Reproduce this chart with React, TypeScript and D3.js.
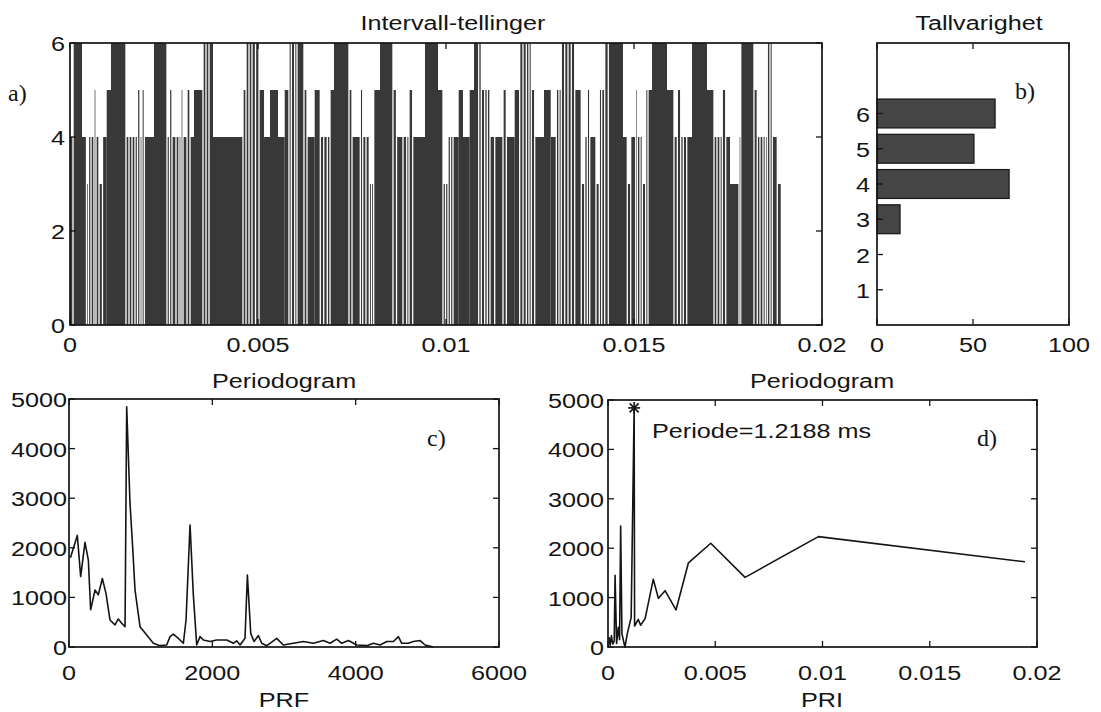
import React from "react";
import * as d3 from "d3";

const W = 1101;
const H = 712;
const SANS = "'Liberation Sans', Arial, Helvetica, sans-serif";
const SERIF = "'Liberation Serif', 'Times New Roman', serif";

// ---------- Panel a: Intervall-tellinger (segment start, ms; count) ----------
const segStartMs = [
  0, 0.08, 0.319, 0.439, 0.492, 0.559, 0.638, 0.691, 0.771, 0.864, 0.976, 1.09,
  1.489, 1.569, 1.649, 1.729, 1.795, 1.862, 1.915, 1.976, 2.234,
  2.58, 2.646, 2.713, 2.819, 2.899, 2.952, 3.005, 3.112, 3.191, 3.298,
  3.537, 3.617, 3.697, 3.803, 4.601, 4.681, 4.761, 4.84, 4.934,
  5.027, 5.16, 5.319, 5.532, 5.71, 5.824, 5.886, 5.976, 6.037,
  6.223, 6.303, 6.508, 6.657, 6.747, 6.843, 6.915, 7.021,
  7.42, 7.5, 7.721, 7.785, 7.872, 7.96, 8.019, 8.077, 8.245,
  8.59, 8.684, 8.856, 8.955, 9.016, 9.114, 9.441,
  9.787, 9.92, 9.987, 10.053, 10.12, 10.186, 10.338, 10.452, 10.63, 10.745, 10.87,
  10.939, 11.029, 11.098, 11.17, 11.295, 11.516, 11.604, 11.827,
  11.96, 12.048, 12.136, 12.207, 12.269, 12.359, 12.606, 12.785, 12.934, 13.005,
  13.066, 13.157, 13.245, 13.332, 13.423, 13.598, 13.689, 13.758, 13.822, 13.989, 14.077, 14.141,
  14.221, 14.316, 14.707, 14.822, 14.912, 15.045, 15.088, 15.16, 15.221, 15.311, 15.372,
  15.479, 15.878, 16.064, 16.152, 16.242, 16.311, 16.402, 16.543,
  16.941, 17.128, 17.207, 17.287, 17.348, 17.439, 17.553, 17.793, 17.838,
  18.191, 18.279, 18.351, 18.431, 18.492, 18.545, 18.617, 18.678, 18.811,
];
const segCount = [
  4, 6, 4, 3, 4, 4, 5, 4, 3, 4, 5, 6,
  4, 4, 4, 4, 5, 4, 5, 4, 6,
  4, 5, 4, 4, 4, 5, 4, 5, 4, 5,
  6, 6, 6, 4, 5, 6, 6, 6, 6,
  5, 4, 5, 4, 5, 6, 6, 6, 6,
  5, 4, 5, 4, 4, 4, 5, 6,
  5, 4, 5, 4, 4, 3, 3, 5, 6,
  5, 4, 4, 4, 5, 4, 6,
  5, 3, 3, 4, 4, 4, 5, 4, 5, 6, 6,
  5, 5, 5, 4, 4, 5, 4, 5,
  6, 6, 6, 6, 5, 4, 5, 4, 5, 5,
  6, 6, 6, 6, 5, 3, 4, 5, 4, 3, 5, 5,
  6, 6, 4, 3, 4, 5, 4, 4, 3, 5, 5,
  6, 5, 4, 5, 4, 4, 4, 6,
  5, 4, 4, 4, 5, 4, 3, 4, 6,
  5, 4, 4, 4, 4, 6, 6, 4, 3,
];
const segEndMs = 18.902;
const aYTicks = [0, 2, 4, 6];
const aXTicks = [0, 0.005, 0.01, 0.015, 0.02];
const aXTickLabels = ["0", "0.005", "0.01", "0.015", "0.02"];

// ---------- Panel b: Tallvarighet ----------
const bCategories = [1, 2, 3, 4, 5, 6];
const bValues = [0, 0, 12, 68.8, 50.5, 61.5];
const bXTicks = [0, 50, 100];

// ---------- Panel c: Periodogram vs PRF ----------
const prfFreq = [
  20, 116, 163, 223, 270, 302, 363, 409, 465, 516, 572, 642, 688, 735, 782,
  805, 851, 889, 921, 991, 1084, 1177, 1270, 1363, 1410, 1456, 1526, 1596, 1633, 1689,
  1735, 1782, 1828, 1875, 1968, 2061, 2201, 2294, 2340, 2387, 2456, 2489, 2536, 2582, 2643,
  2689, 2759, 2805, 2898, 2991, 3131, 3270, 3410, 3549, 3643, 3736, 3806, 3899, 4015, 4155,
  4248, 4341, 4434, 4527, 4596, 4643, 4736, 4805, 4899, 4968, 5085,
];
const prfPower = [
  1800, 2250, 1420, 2110, 1750, 750, 1150, 1050, 1380, 1080, 545, 445, 565, 480, 410,
  4845, 2900, 2000, 1150, 410, 240, 75, 27, 40, 210, 260, 175, 75, 545, 2460,
  1050, 40, 210, 140, 110, 140, 140, 75, 125, 40, 175, 1450, 275, 110, 230,
  75, 27, 75, 175, 40, 75, 110, 75, 130, 75, 160, 75, 130, 40, 27,
  75, 40, 110, 110, 210, 75, 75, 110, 130, 40, 0,
];
const cXTicks = [0, 2000, 4000, 6000];
const powerTicks = [0, 1000, 2000, 3000, 4000, 5000];

// ---------- Panel d: Periodogram vs PRI ----------
const priSec = [
  0.00005, 0.0001, 0.00016, 0.00022, 0.00029, 0.00033, 0.0004, 0.00048, 0.00054, 0.00059,
  0.00065, 0.00072, 0.00079, 0.0009, 0.00108, 0.0012188, 0.00124, 0.00141, 0.00152, 0.00173,
  0.00211, 0.00235, 0.00266, 0.00317, 0.00375, 0.00479, 0.00639, 0.00981, 0.01944,
];
const priPower = [
  200, 30, 230, 60, 120, 1450, 70, 400, 150, 2450,
  270, 130, 0, 270, 600, 4850, 425, 560, 440, 575,
  1370, 985, 1140, 750, 1705, 2100, 1410, 2235, 1725,
];
const peakPri = 0.0012188;
const peakPower = 4840;
const dXTicks = [0, 0.005, 0.01, 0.015, 0.02];
const dXTickLabels = ["0", "0.005", "0.01", "0.015", "0.02"];

const INK = "#141414";

function T({ x, y, anchor = "middle", size = 21, sx = 1.2, family = SANS, children }: any) {
  return (
    <text
      transform={`translate(${x},${y}) scale(${sx},1)`}
      textAnchor={anchor}
      fontSize={size}
      fontFamily={family}
      fill={INK}
    >
      {children}
    </text>
  );
}

function Frame({ x0, x1, y0, y1 }: any) {
  return (
    <rect x={x0} y={y1} width={x1 - x0} height={y0 - y1} fill="none" stroke={INK} strokeWidth={1.7} />
  );
}

export default function App() {
  const xA = d3.scaleLinear().domain([0, 0.02]).range([70, 822]);
  const yA = d3.scaleLinear().domain([0, 6]).range([325, 43]);
  const xB = d3.scaleLinear().domain([0, 100]).range([877, 1069]);
  const yB = d3.scaleLinear().domain([0, 8]).range([325, 43]);
  const xC = d3.scaleLinear().domain([0, 6000]).range([69, 499]);
  const yC = d3.scaleLinear().domain([0, 5000]).range([647, 399]);
  const xD = d3.scaleLinear().domain([0, 0.02]).range([608, 1037]);
  const yD = d3.scaleLinear().domain([0, 5000]).range([647, 400]);

  const n = Math.min(segStartMs.length, segCount.length);
  const segs = d3.range(n).map((i) => {
    const s = segStartMs[i];
    const e = i + 1 < n ? segStartMs[i + 1] : segEndMs;
    return { s, e, w: e - s, v: segCount[i] };
  });
  const NARROW = 0.1; // ms
  // a white separator at a boundary when either neighbouring interval is narrow
  const gapAt = (i: number) =>
    i > 0 && i < n && (segs[i - 1].w < NARROW || segs[i].w < NARROW || segs[i - 1].v === segs[i].v);

  const cLine = d3
    .line<number>()
    .x((_, i) => xC(prfFreq[i]))
    .y((d) => yC(d))(prfPower);
  const dLine = d3
    .line<number>()
    .x((_, i) => xD(priSec[i]))
    .y((d) => yD(d))(priPower);

  const tk = 6;
  const px = xD(peakPri);
  const py = yD(peakPower);

  return (
    <svg
      width={W}
      height={H}
      viewBox={`0 0 ${W} ${H}`}
      style={{ position: "absolute", left: 0, top: 0, background: "#fff" }}
    >
      <rect x={0} y={0} width={W} height={H} fill="#fff" />

      {/* ================= Panel a ================= */}
      <g>
        {segs.map((d, i) => {
          const x0 = xA(d.s / 1000) + (gapAt(i) ? 0.65 : 0);
          const x1 = xA(d.e / 1000) - (gapAt(i + 1) ? 0.65 : 0);
          return (
            <rect
              key={i}
              x={x0}
              y={yA(d.v)}
              width={Math.max(0.6, x1 - x0)}
              height={yA(0) - yA(d.v)}
              fill="#383838"
            />
          );
        })}
        <Frame x0={70} x1={822} y0={325} y1={43} />
        {aYTicks.map((t) => (
          <g key={t}>
            <line x1={70} x2={70 + tk} y1={yA(t)} y2={yA(t)} stroke={INK} strokeWidth={1.3} />
            <line x1={822} x2={822 - tk} y1={yA(t)} y2={yA(t)} stroke={INK} strokeWidth={1.3} />
            <T x={65} y={yA(t) + 8} anchor="end">{String(t)}</T>
          </g>
        ))}
        {aXTicks.map((t, i) => (
          <g key={t}>
            <line x1={xA(t)} x2={xA(t)} y1={325} y2={325 - tk} stroke={INK} strokeWidth={1.3} />
            <line x1={xA(t)} x2={xA(t)} y1={43} y2={43 + tk} stroke={INK} strokeWidth={1.3} />
            <T x={xA(t)} y={352}>{aXTickLabels[i]}</T>
          </g>
        ))}
        <T x={453} y={30}>Intervall-tellinger</T>
        <T x={8} y={101} anchor="start" size={24} sx={1} family={SERIF}>a)</T>
      </g>

      {/* ================= Panel b ================= */}
      <g>
        {bCategories.map((c, i) =>
          bValues[i] > 0 ? (
            <rect
              key={c}
              x={xB(0)}
              y={yB(c + 0.41)}
              width={xB(bValues[i]) - xB(0)}
              height={yB(c - 0.41) - yB(c + 0.41)}
              fill="#454545"
              stroke={INK}
              strokeWidth={1.2}
            />
          ) : null
        )}
        <Frame x0={877} x1={1069} y0={325} y1={43} />
        {bCategories.map((c) => (
          <g key={c}>
            <line x1={877} x2={877 + tk} y1={yB(c)} y2={yB(c)} stroke={INK} strokeWidth={1.3} />
            <T x={863} y={yB(c) + 8}>{String(c)}</T>
          </g>
        ))}
        {bXTicks.map((t) => (
          <g key={t}>
            <line x1={xB(t)} x2={xB(t)} y1={325} y2={325 - tk} stroke={INK} strokeWidth={1.3} />
            <line x1={xB(t)} x2={xB(t)} y1={43} y2={43 + tk} stroke={INK} strokeWidth={1.3} />
            <T x={xB(t)} y={352}>{String(t)}</T>
          </g>
        ))}
        <T x={979} y={30}>Tallvarighet</T>
        <T x={1015} y={99} anchor="start" size={24} sx={1} family={SERIF}>b)</T>
      </g>

      {/* ================= Panel c ================= */}
      <g>
        <path d={cLine || ""} fill="none" stroke={INK} strokeWidth={1.6} strokeLinejoin="round" />
        <Frame x0={69} x1={499} y0={647} y1={399} />
        {powerTicks.map((t) => (
          <g key={t}>
            <line x1={69} x2={69 + tk} y1={yC(t)} y2={yC(t)} stroke={INK} strokeWidth={1.3} />
            <line x1={499} x2={499 - tk} y1={yC(t)} y2={yC(t)} stroke={INK} strokeWidth={1.3} />
            <T x={67} y={yC(t) + 8} anchor="end">{String(t)}</T>
          </g>
        ))}
        {cXTicks.map((t) => (
          <g key={t}>
            <line x1={xC(t)} x2={xC(t)} y1={647} y2={647 - tk} stroke={INK} strokeWidth={1.3} />
            <line x1={xC(t)} x2={xC(t)} y1={399} y2={399 + tk} stroke={INK} strokeWidth={1.3} />
            <T x={xC(t)} y={680}>{String(t)}</T>
          </g>
        ))}
        <T x={284} y={388}>Periodogram</T>
        <T x={284} y={707}>PRF</T>
        <T x={427} y={446} anchor="start" size={24} sx={1} family={SERIF}>c)</T>
      </g>

      {/* ================= Panel d ================= */}
      <g>
        <path d={dLine || ""} fill="none" stroke={INK} strokeWidth={1.6} strokeLinejoin="round" />
        <g stroke={INK} strokeWidth={1.6}>
          <line x1={px - 6} x2={px + 6} y1={py} y2={py} />
          <line x1={px} x2={px} y1={py - 6} y2={py + 6} />
          <line x1={px - 4.5} x2={px + 4.5} y1={py - 4.5} y2={py + 4.5} />
          <line x1={px - 4.5} x2={px + 4.5} y1={py + 4.5} y2={py - 4.5} />
        </g>
        <Frame x0={608} x1={1037} y0={647} y1={400} />
        {powerTicks.map((t) => (
          <g key={t}>
            <line x1={608} x2={608 + tk} y1={yD(t)} y2={yD(t)} stroke={INK} strokeWidth={1.3} />
            <line x1={1037} x2={1037 - tk} y1={yD(t)} y2={yD(t)} stroke={INK} strokeWidth={1.3} />
            <T x={604} y={yD(t) + 8} anchor="end">{String(t)}</T>
          </g>
        ))}
        {dXTicks.map((t, i) => (
          <g key={t}>
            <line x1={xD(t)} x2={xD(t)} y1={647} y2={647 - tk} stroke={INK} strokeWidth={1.3} />
            <line x1={xD(t)} x2={xD(t)} y1={400} y2={400 + tk} stroke={INK} strokeWidth={1.3} />
            <T x={xD(t)} y={680}>{dXTickLabels[i]}</T>
          </g>
        ))}
        <T x={822} y={388}>Periodogram</T>
        <T x={822} y={707}>PRI</T>
        <T x={652} y={438} anchor="start">Periode=1.2188 ms</T>
        <T x={977} y={446} anchor="start" size={24} sx={1} family={SERIF}>d)</T>
      </g>
    </svg>
  );
}
